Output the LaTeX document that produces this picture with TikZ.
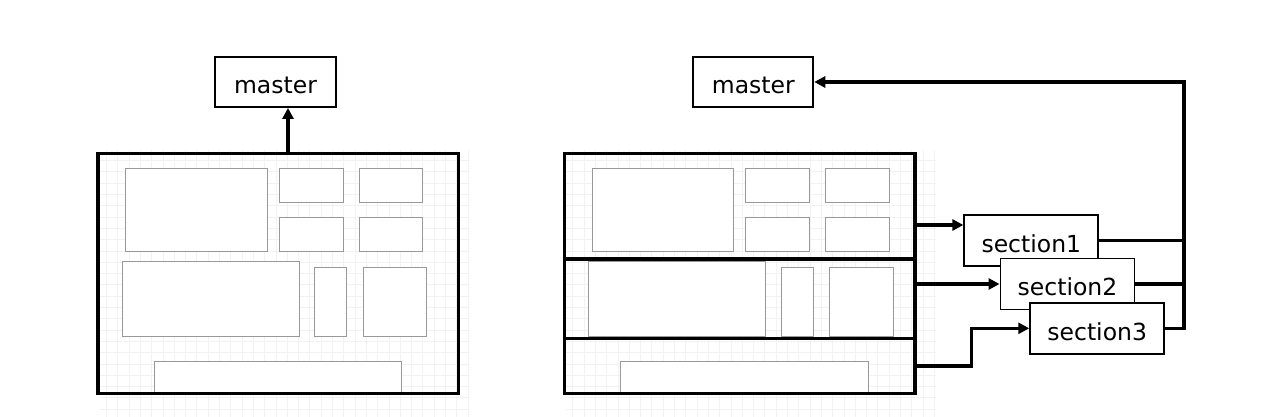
\documentclass[tikz,border=0pt]{standalone}
\usepackage{fontspec}
\setmainfont{DejaVu Sans}
\usetikzlibrary{arrows.meta}
\tikzset{
  frame/.style={draw=black, line width=3.5pt},
  inbox/.style={draw=gray!80, line width=0.9pt, fill=white},
  labelbox/.style={draw=black, line width=1.9pt, fill=white, inner sep=0pt,
    font=\fontsize{23.5}{27}\selectfont},
  conn/.style={line width=3.4pt, -{Triangle[length=11pt,width=11pt]}},
  wire/.style={line width=3.4pt},
  gridline/.style={draw=gray!10, line width=0.5pt},
}
\newcommand{\lbl}[1]{\raisebox{-3pt}[\height][\depth]{#1}}
\newcommand{\panelboxes}{%
  \draw[inbox] (125.7,168.3) rectangle (267.3,251);
  \draw[inbox] (279.3,168.3) rectangle (343.3,202.3);
  \draw[inbox] (359,168.3) rectangle (422.7,202.3);
  \draw[inbox] (279.3,217) rectangle (343.3,251);
  \draw[inbox] (359,217) rectangle (422.7,251);
  \draw[inbox] (122.3,261.3) rectangle (299,336.3);
  \draw[inbox] (314.7,267) rectangle (346.7,336.3);
  \draw[inbox] (363.3,267) rectangle (426.7,336.3);
  \draw[inbox] (154,361) rectangle (401.7,393);
}
\newcommand{\panelgrid}{%
  \foreach \gx in {106.3,117.6,...,470} \draw[gridline] (\gx,150) -- (\gx,417);
  \foreach \gy in {160.4,171.7,...,417} \draw[gridline] (100,\gy) -- (470,\gy);
}
\begin{document}
\begin{tikzpicture}[x=1pt,y=-1pt]
\fill[white] (0,0) rectangle (1270,417);
\useasboundingbox (0,0) rectangle (1270,417);

% grids
\panelgrid
\begin{scope}[xshift=466.3pt]\panelgrid\end{scope}

% inner layout boxes
\panelboxes
\begin{scope}[xshift=466.3pt]\panelboxes\end{scope}

% frames
\node[frame, minimum width=360.3pt, minimum height=240pt] (lframe) at (278.2,273.3) {};
\node[frame, minimum width=350.7pt, minimum height=240pt] (rframe) at (739.7,273.3) {};
\draw[frame] (rframe.west |- 0,259) -- (rframe.east |- 0,259);
\draw[frame] (rframe.west |- 0,338.3) -- (rframe.east |- 0,338.3);

% master nodes
\node[labelbox, minimum width=121pt, minimum height=50pt] (lmaster) at (275.5,82) {\lbl{master}};
\node[labelbox, minimum width=120pt, minimum height=50pt] (rmaster) at (753.3,82) {\lbl{master}};

% section nodes
\node[labelbox, minimum width=134pt, minimum height=51pt] (s1) at (1031.3,240.3) {\lbl{section1}};
\node[labelbox, minimum width=134pt, minimum height=51pt] (s2) at (1067.5,284) {\lbl{section2}};
\node[labelbox, minimum width=134pt, minimum height=51pt] (s3) at (1097.2,328.3) {\lbl{section3}};

% left connector
\coordinate (lout) at (288,153);
\draw[conn] (lout) -- (lout |- lmaster.south);

% right connectors
\coordinate (o1) at (915,225);
\coordinate (o2) at (915,284);
\coordinate (o3) at (915,366);
\coordinate (k3) at (971.7,366);
\draw[conn] (o1) -- (o1 -| s1.west);
\draw[conn] (o2) -- (o2 -| s2.west);
\draw[conn] (o3) -- (k3) |- (s3.west);

\coordinate (bus) at (1184,82);
\draw[wire] (s1.east) -- (s1.east -| bus);
\draw[wire] (s2.east) -- (s2.east -| bus);
\draw[conn] (s3.east) -- (s3.east -| bus) -- (bus) -- (rmaster.east);
\end{tikzpicture}
\end{document}
